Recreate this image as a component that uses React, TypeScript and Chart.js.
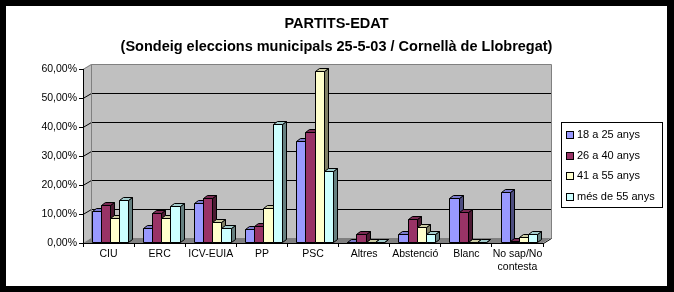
import React, { useEffect, useRef } from 'react';
import { Chart, registerables } from 'chart.js';

Chart.register(...registerables);

const titleLines = ['PARTITS-EDAT', '(Sondeig eleccions municipals 25-5-03 / Cornellà de Llobregat)'];
const categories: (string | string[])[] = ['CIU', 'ERC', 'ICV-EUIA', 'PP', 'PSC', 'Altres', 'Abstenció', 'Blanc', ['No sap/No', 'contesta']];
const seriesNames = ['18 a 25 anys', '26 a 40 anys', '41 a 55 anys', 'més de 55 anys'];
const age18to25 = [10.8, 4.7, 13.3, 4.6, 34.7, 0, 2.6, 15.1, 17.2];
const age26to40 = [12.8, 10.1, 15.3, 5.4, 38.0, 2.8, 7.8, 10.3, 0.5];
const age41to55 = [8.4, 8.4, 6.8, 11.7, 58.9, 0, 5.1, 0, 1.8];
const age55plus = [14.6, 12.3, 4.9, 40.6, 24.4, 0, 2.7, 0, 2.7];
const seriesColors = ['#9999FF', '#993366', '#FFFFCC', '#CCFFFF'];
const yMax = 60;
const yStep = 10;

const W = 674;
const H = 292;
const WALL_DX = 8;
const WALL_DY = 5;
const BAR_DX = 4;
const BAR_DY = 3;
const BAR_SHIFT_X = 1.5;
const BAR_SHIFT_Y = -1;
const FONT = '"Liberation Sans", Arial, sans-serif';

function shade(hex: string, f: number) {
  const n = parseInt(hex.slice(1), 16);
  const r = Math.round(((n >> 16) & 255) * f);
  const g = Math.round(((n >> 8) & 255) * f);
  const b = Math.round((n & 255) * f);
  return `rgb(${r},${g},${b})`;
}

function poly(ctx: CanvasRenderingContext2D, pts: number[][], fill: string, stroke: string) {
  ctx.beginPath();
  ctx.moveTo(pts[0][0], pts[0][1]);
  for (let i = 1; i < pts.length; i++) ctx.lineTo(pts[i][0], pts[i][1]);
  ctx.closePath();
  ctx.fillStyle = fill;
  ctx.fill();
  if (stroke) {
    ctx.strokeStyle = stroke;
    ctx.lineWidth = 1;
    ctx.stroke();
  }
}

const framePlugin = {
  id: 'frame3d',
  beforeDraw(chart: any) {
    const ctx = chart.ctx as CanvasRenderingContext2D;
    const { left, right, top, bottom } = chart.chartArea;
    const ys = chart.scales.y;
    ctx.save();
    ctx.fillStyle = '#000';
    ctx.fillRect(0, 0, W, H);
    ctx.fillStyle = '#fff';
    ctx.fillRect(6, 6, 661, 280);
    // left wall
    poly(ctx, [[left, top], [left + WALL_DX, top - WALL_DY], [left + WALL_DX, bottom - WALL_DY], [left, bottom]], '#C0C0C0', '');
    // back wall
    ctx.fillStyle = '#C0C0C0';
    ctx.fillRect(left + WALL_DX, top - WALL_DY, right - left, bottom - top);
    // floor
    poly(ctx, [[left, bottom], [right, bottom], [right + WALL_DX, bottom - WALL_DY], [left + WALL_DX, bottom - WALL_DY]], '#808080', '');
    // gridlines
    ctx.lineWidth = 1;
    for (let v = yStep; v <= yMax; v += yStep) {
      const yf = Math.round(ys.getPixelForValue(v)) + 0.5;
      const yb = yf - WALL_DY;
      ctx.strokeStyle = v === yMax ? '#808080' : '#000';
      ctx.beginPath();
      ctx.moveTo(left, yf);
      ctx.lineTo(left + WALL_DX + 0.5, yb);
      ctx.lineTo(right + WALL_DX + 0.5, yb);
      ctx.stroke();
    }
    // wall outlines
    ctx.strokeStyle = '#808080';
    ctx.beginPath();
    ctx.moveTo(right + WALL_DX + 0.5, top - WALL_DY + 0.5);
    ctx.lineTo(right + WALL_DX + 0.5, bottom - WALL_DY + 0.5);
    ctx.moveTo(left + WALL_DX + 0.5, top - WALL_DY + 0.5);
    ctx.lineTo(left + WALL_DX + 0.5, bottom - WALL_DY + 0.5);
    ctx.stroke();
    ctx.strokeStyle = '#000';
    ctx.beginPath();
    ctx.moveTo(right + 0.5, bottom + 0.5);
    ctx.lineTo(right + WALL_DX + 0.5, bottom - WALL_DY + 0.5);
    ctx.stroke();
    ctx.restore();
  },
  afterDatasetsDraw(chart: any) {
    const ctx = chart.ctx as CanvasRenderingContext2D;
    const metas = seriesColors.map((_, i) => chart.getDatasetMeta(i));
    ctx.save();
    ctx.lineWidth = 1;
    for (let c = 0; c < categories.length; c++) {
      for (let d = 0; d < metas.length; d++) {
        const el = metas[d].data[c];
        const p = el.getProps(['x', 'y', 'base', 'width'], true);
        const l = Math.round(p.x - p.width / 2 + BAR_SHIFT_X) + 0.5;
        const r = Math.round(p.x + p.width / 2 + BAR_SHIFT_X) + 0.5;
        const t = Math.round(p.y + BAR_SHIFT_Y) + 0.5;
        const b = Math.round(p.base + BAR_SHIFT_Y) + 0.5;
        const col = seriesColors[d];
        poly(ctx, [[r, t], [r + BAR_DX, t - BAR_DY], [r + BAR_DX, b - BAR_DY], [r, b]], shade(col, 0.5), '#000');
        poly(ctx, [[l, t], [l + BAR_DX, t - BAR_DY], [r + BAR_DX, t - BAR_DY], [r, t]], shade(col, 0.8), '#000');
        poly(ctx, [[l, t], [r, t], [r, b], [l, b]], col, '#000');
      }
    }
    ctx.restore();
  },
  afterDraw(chart: any) {
    const ctx = chart.ctx as CanvasRenderingContext2D;
    ctx.save();
    // title
    ctx.fillStyle = '#000';
    ctx.textAlign = 'center';
    ctx.textBaseline = 'middle';
    ctx.font = `bold 14.5px ${FONT}`;
    ctx.fillText(titleLines[0], 336.5, 24);
    ctx.fillText(titleLines[1], 336.5, 47);
    // legend
    const lx = 561, ly = 122, lw = 101, lh = 85;
    ctx.fillStyle = '#fff';
    ctx.fillRect(lx, ly, lw, lh);
    ctx.strokeStyle = '#000';
    ctx.lineWidth = 1;
    ctx.strokeRect(lx + 0.5, ly + 0.5, lw, lh);
    ctx.font = `11px ${FONT}`;
    ctx.textAlign = 'left';
    for (let i = 0; i < seriesNames.length; i++) {
      const cy = 135 + i * 20.7;
      const sy = Math.round(cy - 4) + 0.5;
      ctx.fillStyle = seriesColors[i];
      ctx.fillRect(566.5, sy, 7, 7);
      ctx.strokeRect(566.5, sy, 7, 7);
      ctx.fillStyle = '#000';
      ctx.fillText(seriesNames[i], 577, cy);
    }
    ctx.restore();
  },
};

export default function App() {
  const ref = useRef<HTMLCanvasElement>(null);
  useEffect(() => {
    if (!ref.current) return;
    const series = [age18to25, age26to40, age41to55, age55plus];
    const chart = new Chart(ref.current, {
      type: 'bar',
      data: {
        labels: categories as any,
        datasets: series.map((vals, i) => ({
          label: seriesNames[i],
          data: vals,
          backgroundColor: 'rgba(0,0,0,0)',
          borderWidth: 0,
          categoryPercentage: 0.72,
          barPercentage: 1,
        })),
      },
      options: {
        responsive: false,
        animation: false,
        devicePixelRatio: 1,
        layout: { padding: { top: 69, right: 131, left: 0, bottom: 0 } },
        plugins: { legend: { display: false }, title: { display: false }, tooltip: { enabled: false } },
        scales: {
          x: {
            grid: { display: true, drawOnChartArea: false, drawTicks: true, tickLength: 4, color: '#000', offset: true },
            border: { display: true, color: '#000', width: 1 },
            ticks: { color: '#000', font: { family: FONT, size: 10.5 }, padding: 1, maxRotation: 0, autoSkip: false },
            afterFit: (s: any) => { s.height = 49; },
          },
          y: {
            min: 0,
            max: yMax,
            grid: { display: true, drawOnChartArea: false, drawTicks: true, tickLength: 4, color: '#000' },
            border: { display: true, color: '#000', width: 1 },
            ticks: {
              stepSize: yStep,
              color: '#000',
              font: { family: FONT, size: 10.5 },
              padding: 2,
              callback: (v: any) => Number(v).toFixed(2).replace('.', ',') + '%',
            },
            afterFit: (s: any) => { s.width = 83; },
          },
        },
      },
      plugins: [framePlugin],
    });
    return () => chart.destroy();
  }, []);
  return (
    <div style={{ position: 'fixed', left: 0, top: 0, width: W, height: H }}>
      <canvas ref={ref} width={W} height={H} style={{ display: 'block', width: W, height: H }} />
    </div>
  );
}
